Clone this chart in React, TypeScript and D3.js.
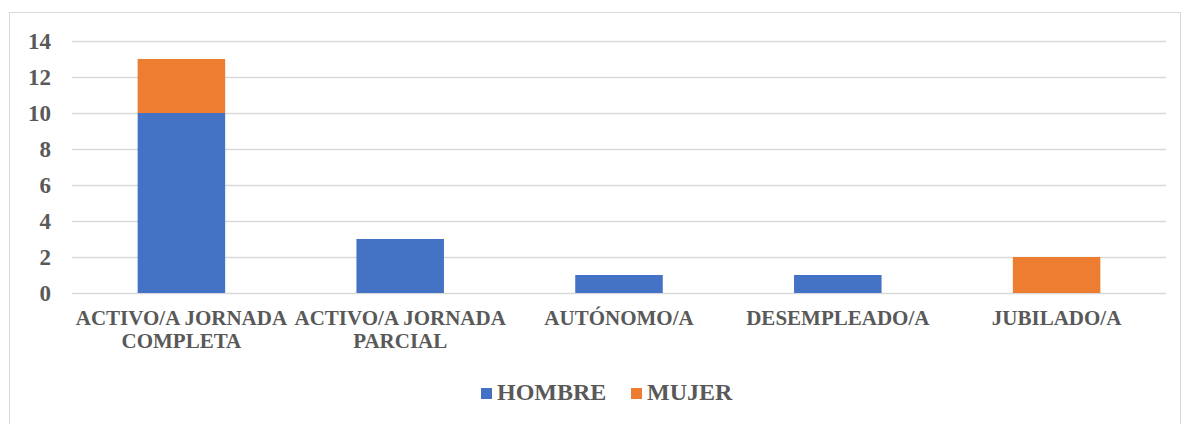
import React from "react";
import * as d3 from "d3";

const categories: string[][] = [
  ["ACTIVO/A JORNADA", "COMPLETA"],
  ["ACTIVO/A JORNADA", "PARCIAL"],
  ["AUTÓNOMO/A"],
  ["DESEMPLEADO/A"],
  ["JUBILADO/A"],
];
const hombre = [10, 3, 1, 1, 0];
const mujer = [3, 0, 0, 0, 2];
const yTicks = [0, 2, 4, 6, 8, 10, 12, 14];
const seriesNames = ["HOMBRE", "MUJER"];
const colors = ["#4472C4", "#ED7D31"];

export default function App() {
  const W = 1182, H = 424;
  const left = 72, right = 1166, top = 41, bottom = 293;
  const keys = categories.map((_, i) => String(i));
  const x = d3.scaleBand().domain(keys).range([left, right]).paddingInner(0.6).paddingOuter(0.3);
  const y = d3.scaleLinear().domain([0, 14]).range([bottom, top]);
  const rows = categories.map((_, i) => ({ hombre: hombre[i], mujer: mujer[i] }));
  const stacked = d3.stack<any>().keys(["hombre", "mujer"])(rows);
  const font = "'Liberation Serif', 'Times New Roman', serif";
  const textColor = "#595959";
  return (
    <div style={{ position: "absolute", left: 0, top: 0 }}>
      <svg width={W} height={H} style={{ display: "block" }}>
        <rect x={0} y={0} width={W} height={H} fill="#fff" />
        <rect x={9.5} y={12.5} width={1171} height={430} fill="none" stroke="#d9d9d9" strokeWidth={1} />
        {yTicks.map((t) => (
          <g key={t}>
            <line x1={left} x2={right} y1={Math.round(y(t)) + 0.5} y2={Math.round(y(t)) + 0.5} stroke="#d9d9d9" strokeWidth={1.5} />
            <text x={51} y={y(t)} dy="0.34em" textAnchor="end" fontFamily={font} fontWeight="bold" fontSize={23} fill={textColor}>
              {t}
            </text>
          </g>
        ))}
        {stacked.map((s, si) =>
          s.map((d, i) =>
            d[1] - d[0] > 0 ? (
              <rect
                key={si + "-" + i}
                x={x(keys[i])!}
                y={y(d[1])}
                width={x.bandwidth()}
                height={y(d[0]) - y(d[1])}
                fill={colors[si]}
              />
            ) : null
          )
        )}
        {categories.map((lines, i) => (
          <text key={i} x={x(keys[i])! + x.bandwidth() / 2} y={325} textAnchor="middle" fontFamily={font} fontWeight="bold" fontSize={21} fill={textColor}>
            {lines.map((l, li) => (
              <tspan key={li} x={x(keys[i])! + x.bandwidth() / 2} dy={li === 0 ? 0 : 23}>
                {l}
              </tspan>
            ))}
          </text>
        ))}
        <g>
          <rect x={481} y={388} width={11} height={11} fill={colors[0]} />
          <text x={497} y={400} fontFamily={font} fontWeight="bold" fontSize={24} fill={textColor}>{seriesNames[0]}</text>
          <rect x={631} y={388} width={11} height={11} fill={colors[1]} />
          <text x={647} y={400} fontFamily={font} fontWeight="bold" fontSize={24} fill={textColor}>{seriesNames[1]}</text>
        </g>
      </svg>
    </div>
  );
}
